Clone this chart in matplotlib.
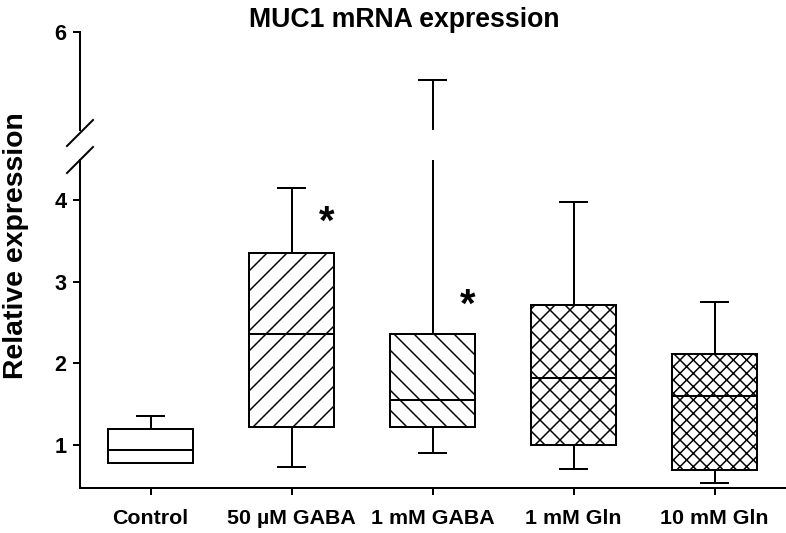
import matplotlib
matplotlib.use('Agg')
import matplotlib.pyplot as plt
from matplotlib.lines import Line2D

# ---- data ----
categories = ['Control', '50 µM GABA', '1 mM GABA', '1 mM Gln', '10 mM Gln']
whisker_low = [0.78, 0.73, 0.90, 0.70, 0.54]
q1 = [0.785, 1.22, 1.22, 1.00, 0.69]
median = [0.935, 2.36, 1.55, 1.82, 1.60]
q3 = [1.19, 3.35, 2.36, 2.71, 2.12]
whisker_high = [1.35, 4.15, 5.41, 3.97, 2.75]
hatches = ['', '//', '\\\\', 'xx', 'xxx']
star_groups = [1, 2]
star_y = [3.72, 2.70]
lower_yticks = [1, 2, 3, 4]
upper_yticks = [6]

# ---- style ----
DPI = 120
W, H = 786, 533
plt.rcParams['font.family'] = ['Liberation Sans', 'DejaVu Sans']
plt.rcParams['font.weight'] = 'bold'
plt.rcParams['hatch.linewidth'] = 0.9
LW = 1.2

fig = plt.figure(figsize=(W / DPI, H / DPI), dpi=DPI)

def frac(x0, y0, x1, y1):
    return [x0 / W, 1 - y1 / H, (x1 - x0) / W, (y1 - y0) / H]

ax_lo = fig.add_axes(frac(80, 160, 785, 487.7))
ax_hi = fig.add_axes(frac(80, 32, 785, 130))

stats = []
for i, c in enumerate(categories):
    stats.append(dict(label=c, whislo=whisker_low[i], q1=q1[i], med=median[i],
                      q3=q3[i], whishi=whisker_high[i], fliers=[]))

positions = list(range(len(categories)))
for ax in (ax_lo, ax_hi):
    bp = ax.bxp(stats, positions=positions, widths=0.605, capwidths=0.19,
                patch_artist=True, showfliers=False,
                boxprops=dict(facecolor='white', edgecolor='black', linewidth=LW),
                medianprops=dict(color='black', linewidth=LW),
                whiskerprops=dict(color='black', linewidth=LW),
                capprops=dict(color='black', linewidth=LW))
    for patch, h in zip(bp['boxes'], hatches):
        patch.set_hatch(h)
    ax.set_xlim(-0.5, 4.5)
    for s in ('top', 'right'):
        ax.spines[s].set_visible(False)
    ax.spines['left'].set_linewidth(LW)
    ax.spines['bottom'].set_linewidth(LW)
    ax.tick_params(axis='y', direction='out', length=4.5, width=LW, pad=3.5,
                   labelsize=13)

ax_lo.set_ylim(0.477, 4.49)
ax_lo.set_yticks(lower_yticks)
ax_lo.set_yticklabels([str(t) for t in lower_yticks], fontweight='bold')
ax_lo.set_xticks(positions)
ax_lo.set_xticklabels(categories, fontsize=12.8, fontweight='bold')
ax_lo.tick_params(axis='x', direction='out', length=4, width=LW, pad=9)

ax_hi.set_ylim(4.8, 6.0)
ax_hi.set_yticks(upper_yticks)
ax_hi.set_yticklabels([str(t) for t in upper_yticks], fontweight='bold')
ax_hi.spines['bottom'].set_visible(False)
ax_hi.set_xticks([])

# asterisks
for g, y in zip(star_groups, star_y):
    ax_lo.text(g + 0.25, y, '*', fontsize=24, fontweight='bold',
               ha='center', va='center')

# axis break marks
for (x0, y0, x1, y1) in [(67, 146, 93, 120), (67, 173, 93, 147)]:
    fig.add_artist(Line2D([x0 / W, x1 / W], [1 - y0 / H, 1 - y1 / H],
                          transform=fig.transFigure, color='black', linewidth=LW))

fig.text(16 / W, 1 - 246 / H, 'Relative expression', rotation=90,
         ha='center', va='center', fontsize=17, fontweight='bold')
fig.text(404 / W, 1 - 27 / H, 'MUC1 mRNA expression', ha='center',
         va='baseline', fontsize=16, fontweight='bold')

fig.savefig('out.png', dpi=DPI)
